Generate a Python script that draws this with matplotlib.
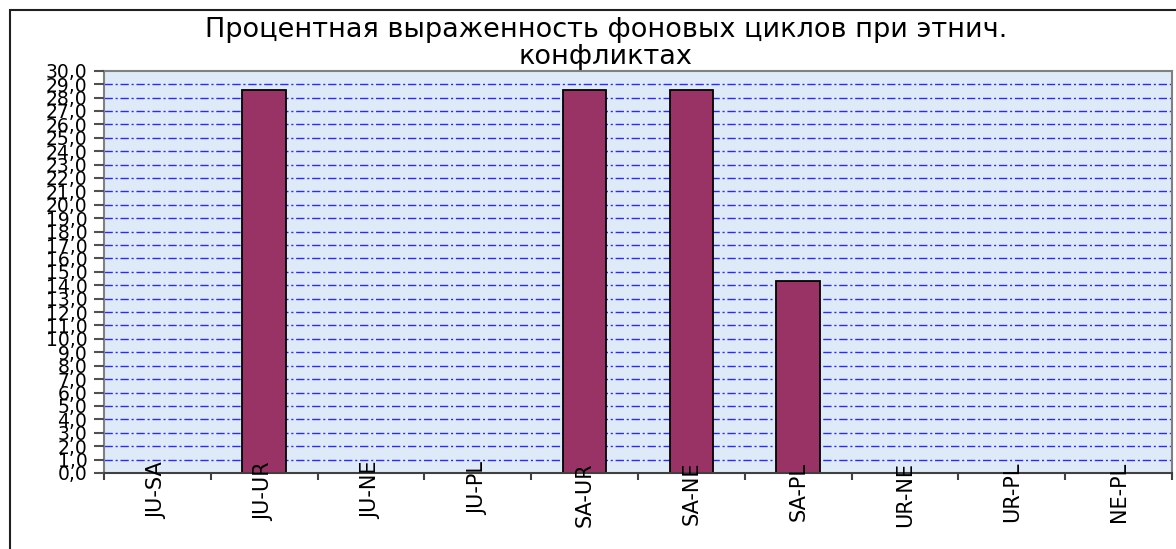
import numpy as np
import matplotlib.pyplot as plt
from matplotlib.patches import Rectangle

plt.rcParams['font.family'] = ['DejaVu Sans']

# ------- Данные -------
pairs = ['JU-SA', 'JU-UR', 'JU-NE', 'JU-PL', 'SA-UR',
         'SA-NE', 'SA-PL', 'UR-NE', 'UR-PL', 'NE-PL']
percent = [0.0, 28.57, 0.0, 0.0, 28.57, 28.57, 14.29, 0.0, 0.0, 0.0]
title = 'Процентная выраженность фоновых циклов при этнич.\nконфликтах'
# ------- /

fig = plt.figure(figsize=(11.76, 5.49), dpi=100)
fig.patch.set_facecolor('white')

# рамка диаграммы
fig.patches.append(Rectangle((10 / 1176, -0.05), 1.2, (549 - 10) / 549 + 0.05,
                             transform=fig.transFigure, fill=False,
                             edgecolor='#202020', linewidth=1.5))

ax = fig.add_axes([104 / 1176, (549 - 473) / 549, 1068 / 1176, 402.3 / 549])
ax.set_facecolor('#dfeaf8')
ax.set_axisbelow(False)  # подписи поверх столбцов

x = np.arange(len(pairs))
ax.bar(x, percent, width=0.41, color='#993366', edgecolor='black',
       linewidth=1.3, zorder=2)

ax.set_xlim(-0.5, len(pairs) - 0.5)
ax.set_ylim(0, 30)

yt = np.arange(0, 31, 1)
ax.set_yticks(yt)
ax.set_yticklabels([('%.1f' % v).replace('.', ',') for v in yt], fontsize=13.5)
ax.yaxis.set_tick_params(length=7, width=1.5, color='#505050', pad=5)

# сетка
for v in yt[1:-1]:
    ax.axhline(v, color='#2a2aff', linestyle=(0, (6, 2, 1.5, 2)),
               linewidth=1.0, zorder=1)

# подписи категорий и деления между ними
ax.set_xticks(np.arange(-0.5, len(pairs), 1))
ax.set_xticklabels([])
ax.xaxis.set_tick_params(length=5, width=1.5, color='#404040')
ax.set_xticks(x, minor=True)
ax.set_xticklabels(pairs, minor=True, rotation=90, fontsize=15, va='top')
ax.xaxis.set_tick_params(which='minor', length=0, pad=-8)

for s in ['top', 'right', 'left']:
    ax.spines[s].set_color('#808080')
    ax.spines[s].set_linewidth(1.5)
ax.spines['bottom'].set_color('#404040')
ax.spines['bottom'].set_linewidth(1.5)

fig.text(0.515, 1 - 44 / 549, title, ha='center', va='center', fontsize=19.5,
         linespacing=1.05)

fig.savefig('out.png', dpi=100)
